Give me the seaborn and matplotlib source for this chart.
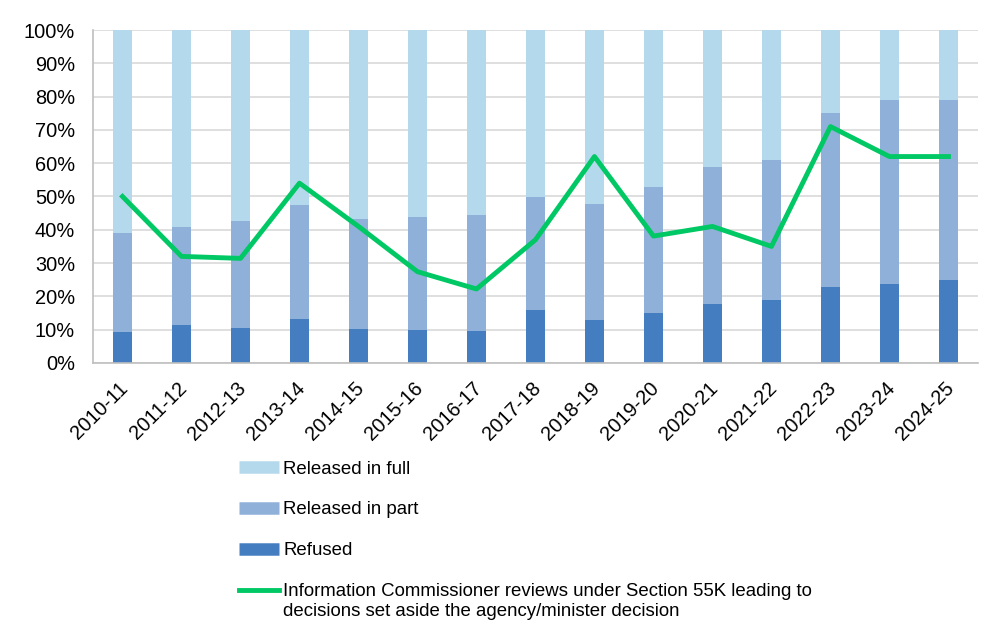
import matplotlib
matplotlib.use("Agg")
import matplotlib.pyplot as plt
import matplotlib.transforms as mtransforms
from matplotlib.lines import Line2D
from matplotlib.ticker import PercentFormatter
import seaborn as sns
import pandas as pd
import numpy as np

# data (percent of decisions)
years = ['2010-11', '2011-12', '2012-13', '2013-14', '2014-15', '2015-16', '2016-17', '2017-18',
         '2018-19', '2019-20', '2020-21', '2021-22', '2022-23', '2023-24', '2024-25']
refused = [9.3, 11.5, 10.5, 13.2, 10.2, 9.9, 9.6, 15.9, 12.9, 14.9, 17.8, 18.9, 22.8, 23.8, 24.9]
released_part = [29.8, 29.3, 32.1, 34.2, 33.0, 33.9, 34.8, 33.9, 34.9, 37.9, 41.0, 42.0, 52.2, 55.2, 54.1]
set_aside = [50, 32, 31.4, 54, 41, 27.4, 22.2, 37, 62, 38.1, 41, 35, 71, 62, 62]

c_full = '#B4D8EC'
c_part = '#8FB0D9'
c_refused = '#457EC0'
c_line = '#00C864'

df = pd.DataFrame({'year': years, 'refused': refused, 'part': released_part})
df['part_top'] = df['refused'] + df['part']
df['full_top'] = 100.0

plt.rcParams['font.family'] = ['Liberation Sans', 'DejaVu Sans']

fig = plt.figure(figsize=(10.02, 6.4), dpi=100)
ax = fig.add_axes([0.0928, 0.433, 0.8832, 0.52])

# stacked bars drawn back to front
sns.barplot(data=df, x='year', y='full_top', color=c_full, width=0.32, saturation=1, ax=ax, zorder=2)
sns.barplot(data=df, x='year', y='part_top', color=c_part, width=0.32, saturation=1, ax=ax, zorder=2)
sns.barplot(data=df, x='year', y='refused', color=c_refused, width=0.32, saturation=1, ax=ax, zorder=2)
sns.lineplot(x=np.arange(len(years)), y=set_aside, color=c_line, linewidth=3.5, ax=ax, zorder=3)

ax.set_ylim(0, 100)
ax.set_xlim(-0.5, len(years) - 0.5)
ax.set_yticks(np.arange(0, 101, 10))
ax.yaxis.set_major_formatter(PercentFormatter(decimals=0))
ax.grid(axis='y', color='#D9D9D9', linewidth=1.2, zorder=0)
ax.set_axisbelow(True)
ax.set_xlabel('')
ax.set_ylabel('')
for s in ['top', 'right']:
    ax.spines[s].set_visible(False)
for s in ['left', 'bottom']:
    ax.spines[s].set_color('#BFBFBF')
    ax.spines[s].set_linewidth(1.2)
ax.tick_params(axis='both', length=0, labelsize=14.4, colors='black')
ax.tick_params(axis='y', pad=13)
ax.tick_params(axis='x', pad=11)
shift = mtransforms.ScaledTranslation(-4 / 100, 0, fig.dpi_scale_trans)
for lab in ax.get_xticklabels():
    lab.set_rotation(45)
    lab.set_ha('right')
    lab.set_rotation_mode('anchor')
    lab.set_transform(lab.get_transform() + shift)

handles = [Line2D([], [], color=c_full, linewidth=9, solid_capstyle='butt'),
           Line2D([], [], color=c_part, linewidth=9, solid_capstyle='butt'),
           Line2D([], [], color=c_refused, linewidth=9, solid_capstyle='butt'),
           Line2D([], [], color=c_line, linewidth=3.5)]
labels = ['Released in full', 'Released in part', 'Refused',
          'Information Commissioner reviews under Section 55K leading to']
fig.legend(handles, labels, loc='upper left', bbox_to_anchor=(0.2385, 0.2805), frameon=False,
           fontsize=13.4, handlelength=2.15, handletextpad=0.22, labelspacing=1.28,
           borderpad=0, borderaxespad=0)
# second line of the last legend label, hanging under the first
fig.text(0.2824, 1 - 611 / 640, 'decisions set aside the agency/minister decision',
         fontsize=13.4, va='center', ha='left')

fig.savefig('out.png', dpi=100)
